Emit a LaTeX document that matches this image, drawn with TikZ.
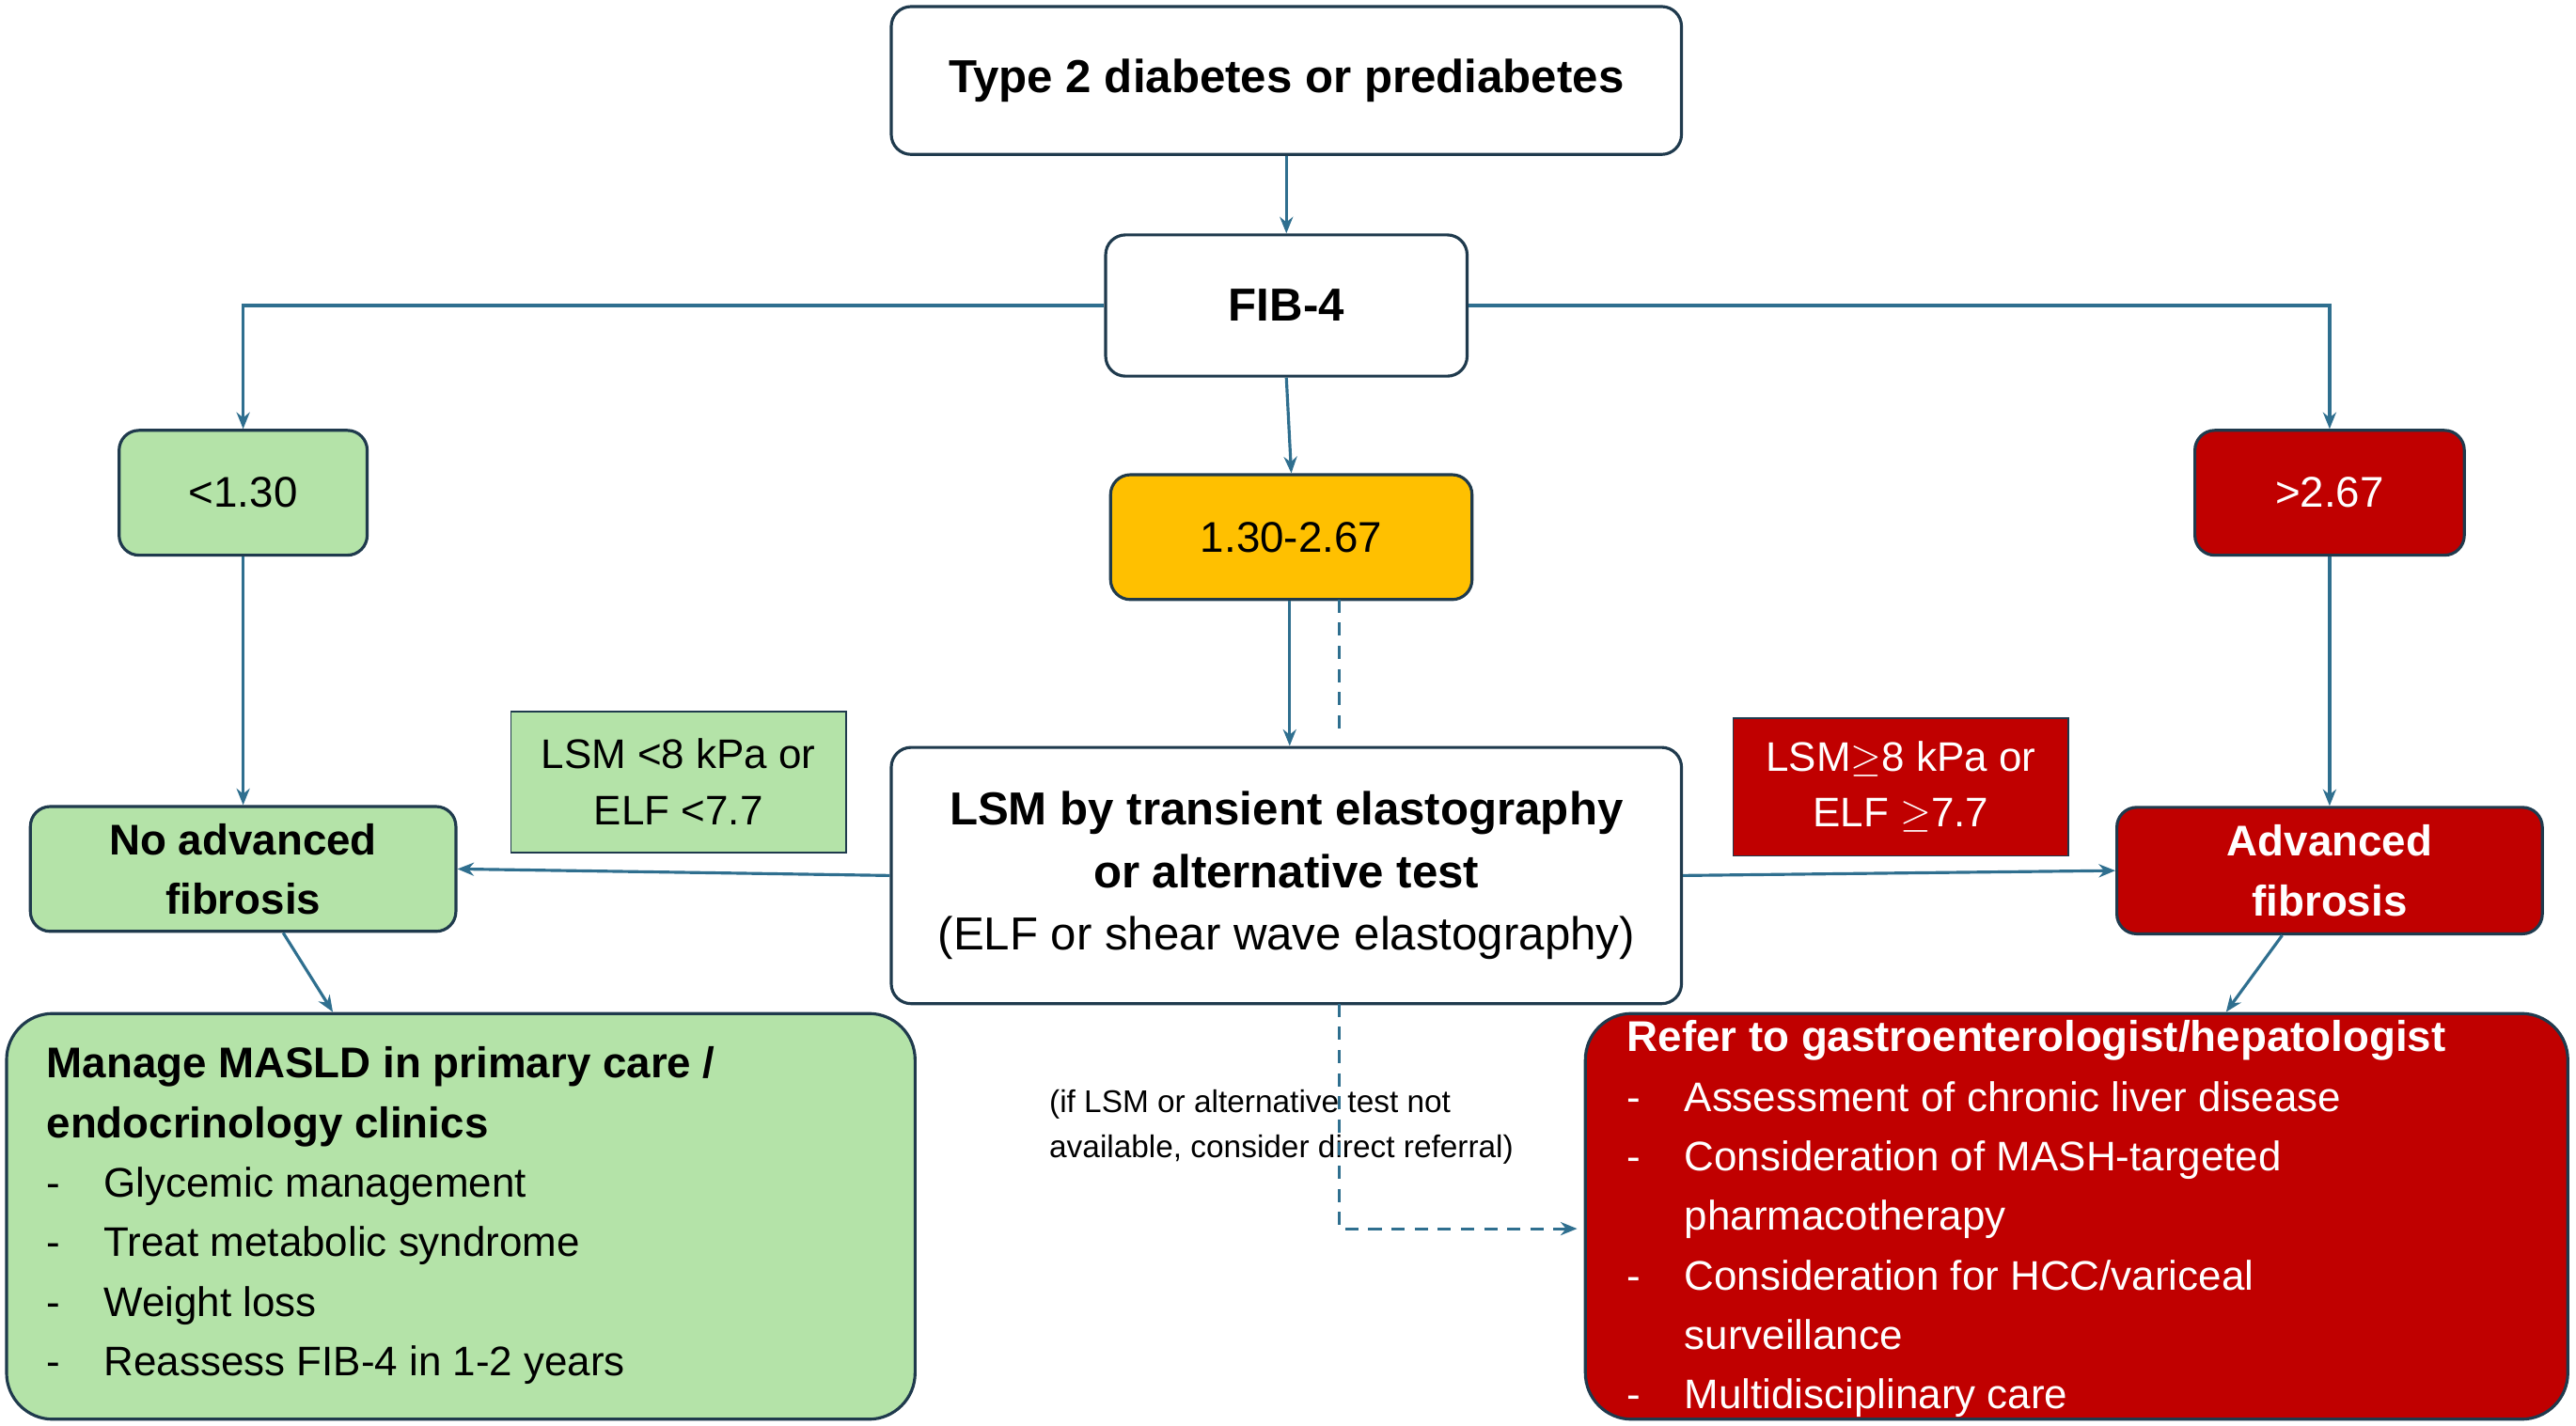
\documentclass[tikz,border=0pt]{standalone}
\usepackage{fontspec}
\setmainfont{Liberation Sans}
\usetikzlibrary{arrows.meta}
\definecolor{flow}{HTML}{2F6F8F}
\definecolor{edge}{HTML}{1F3A4D}
\definecolor{lowgreen}{HTML}{B4E3A8}
\definecolor{midamber}{HTML}{FFC000}
\definecolor{highred}{HTML}{C00000}
\newcommand{\itm}[1]{\makebox[0.61cm][l]{-}#1}
\tikzset{
  box/.style={draw=edge, line width=0.9pt, rounded corners=6pt, align=center, inner sep=2pt},
  green/.style={box, fill=lowgreen},
  red/.style={box, fill=highred, text=white},
  tag/.style={draw=edge, line width=0.5pt, align=center, font=\fontsize{12.5}{17}\selectfont},
  link/.style={-{Stealth[length=5pt,width=4pt]}, draw=flow, line width=0.9pt},
  dashlink/.style={draw=flow, line width=0.9pt, dash pattern=on 4pt off 3pt}
}
\begin{document}
\begin{tikzpicture}[x=0.017474cm, y=-0.017474cm]
\useasboundingbox (0,0) rectangle (1568,868);

\node[box, minimum width=481*0.017474cm, minimum height=90*0.017474cm, font=\fontsize{14}{17}\selectfont\bfseries] (start) at (783,49) {Type 2 diabetes or prediabetes};
\node[box, minimum width=220*0.017474cm, minimum height=86*0.017474cm, font=\fontsize{14}{17}\selectfont\bfseries] (fib) at (783,186) {FIB-4};

\node[green, minimum width=151*0.017474cm, minimum height=76*0.017474cm, font=\fontsize{13}{16}\selectfont] (low) at (148,300) {<1.30};
\node[box, fill=midamber, minimum width=220*0.017474cm, minimum height=76*0.017474cm, font=\fontsize{13}{16}\selectfont] (mid) at (786,327) {1.30-2.67};
\node[red, minimum width=164*0.017474cm, minimum height=76*0.017474cm, font=\fontsize{13}{16}\selectfont] (high) at (1418,300) {>2.67};

\node[box, minimum width=481*0.017474cm, minimum height=156*0.017474cm, font=\fontsize{14}{19}\selectfont] (lsm) at (783,533) {\textbf{LSM by transient elastography}\\\textbf{or alternative test}\\(ELF or shear wave elastography)};

\node[green, minimum width=259*0.017474cm, minimum height=76*0.017474cm, font=\fontsize{13}{18}\selectfont\bfseries] (noadv) at (148,529) {No advanced\\fibrosis};
\node[red, minimum width=259*0.017474cm, minimum height=77*0.017474cm, font=\fontsize{13}{18}\selectfont\bfseries] (adv) at (1418,530) {Advanced\\fibrosis};

\node[tag, fill=lowgreen, minimum width=204*0.017474cm, minimum height=86*0.017474cm] (lowtag) at (413,476) {LSM <8 kPa or\\ELF <7.7};
\node[tag, fill=highred, text=white, minimum width=204*0.017474cm, minimum height=84*0.017474cm] (hightag) at (1157,479) {LSM$\geq$8 kPa or\\ELF $\geq$7.7};

\node[green, rounded corners=14pt, minimum width=553*0.017474cm, minimum height=247*0.017474cm] (manage) at (280.5,740.5) {};
\node[anchor=north west, align=left, inner sep=0pt, font=\fontsize{12.5}{18}\selectfont] (managetxt) at (28,637) {\textbf{\fontsize{13}{18}\selectfont Manage MASLD in primary care /}\\\textbf{\fontsize{13}{18}\selectfont endocrinology clinics}\\\itm{Glycemic management}\\\itm{Treat metabolic syndrome}\\\itm{Weight loss}\\\itm{Reassess FIB-4 in 1-2 years}};

\node[red, rounded corners=14pt, minimum width=598*0.017474cm, minimum height=247*0.017474cm] (refer) at (1264,740.5) {};
\node[anchor=north west, align=left, inner sep=0pt, text=white, font=\fontsize{12.5}{18}\selectfont] (refertxt) at (990,621) {\textbf{\fontsize{13}{18}\selectfont Refer to gastroenterologist/hepatologist}\\\itm{Assessment of chronic liver disease}\\\itm{Consideration of MASH-targeted}\\\hspace*{0.61cm}pharmacotherapy\\\itm{Consideration for HCC/variceal}\\\hspace*{0.61cm}surveillance\\\itm{Multidisciplinary care}};

\node[align=left, font=\fontsize{9.5}{13.5}\selectfont] (note) at (780,686) {(if LSM or alternative test not\\available, consider direct referral)};

\coordinate (lowturn) at (148,186);
\coordinate (highturn) at (1418,186);
\coordinate (dashtop) at (815,365);
\coordinate (dashmid) at (815,448);
\coordinate (dashlow) at (815,611);
\coordinate (dashcorner) at (815,748);
\coordinate (dashend) at (960,748);

\draw[link] (start) -- (fib);
\draw[link] (fib.west) -- (lowturn) -- (low.north);
\draw[link] (fib.east) -- (highturn) -- (high.north);
\draw[link] (fib.south) -- (mid.north);
\draw[link] (mid.south -| 785,0) -- (lsm.north -| 785,0);
\draw[link] (low) -- (noadv);
\draw[link] (high) -- (adv);
\draw[link] (lsm.west) -- (noadv.east);
\draw[link] (lsm.east) -- (adv.west);
\draw[link] (noadv) -- (manage);
\draw[link] (adv) -- (refer);
\draw[dashlink] (dashtop) -- (dashmid);
\draw[dashlink, -{Stealth[length=5pt,width=4pt]}] (dashlow) -- (dashcorner) -- (dashend);
\end{tikzpicture}
\end{document}
